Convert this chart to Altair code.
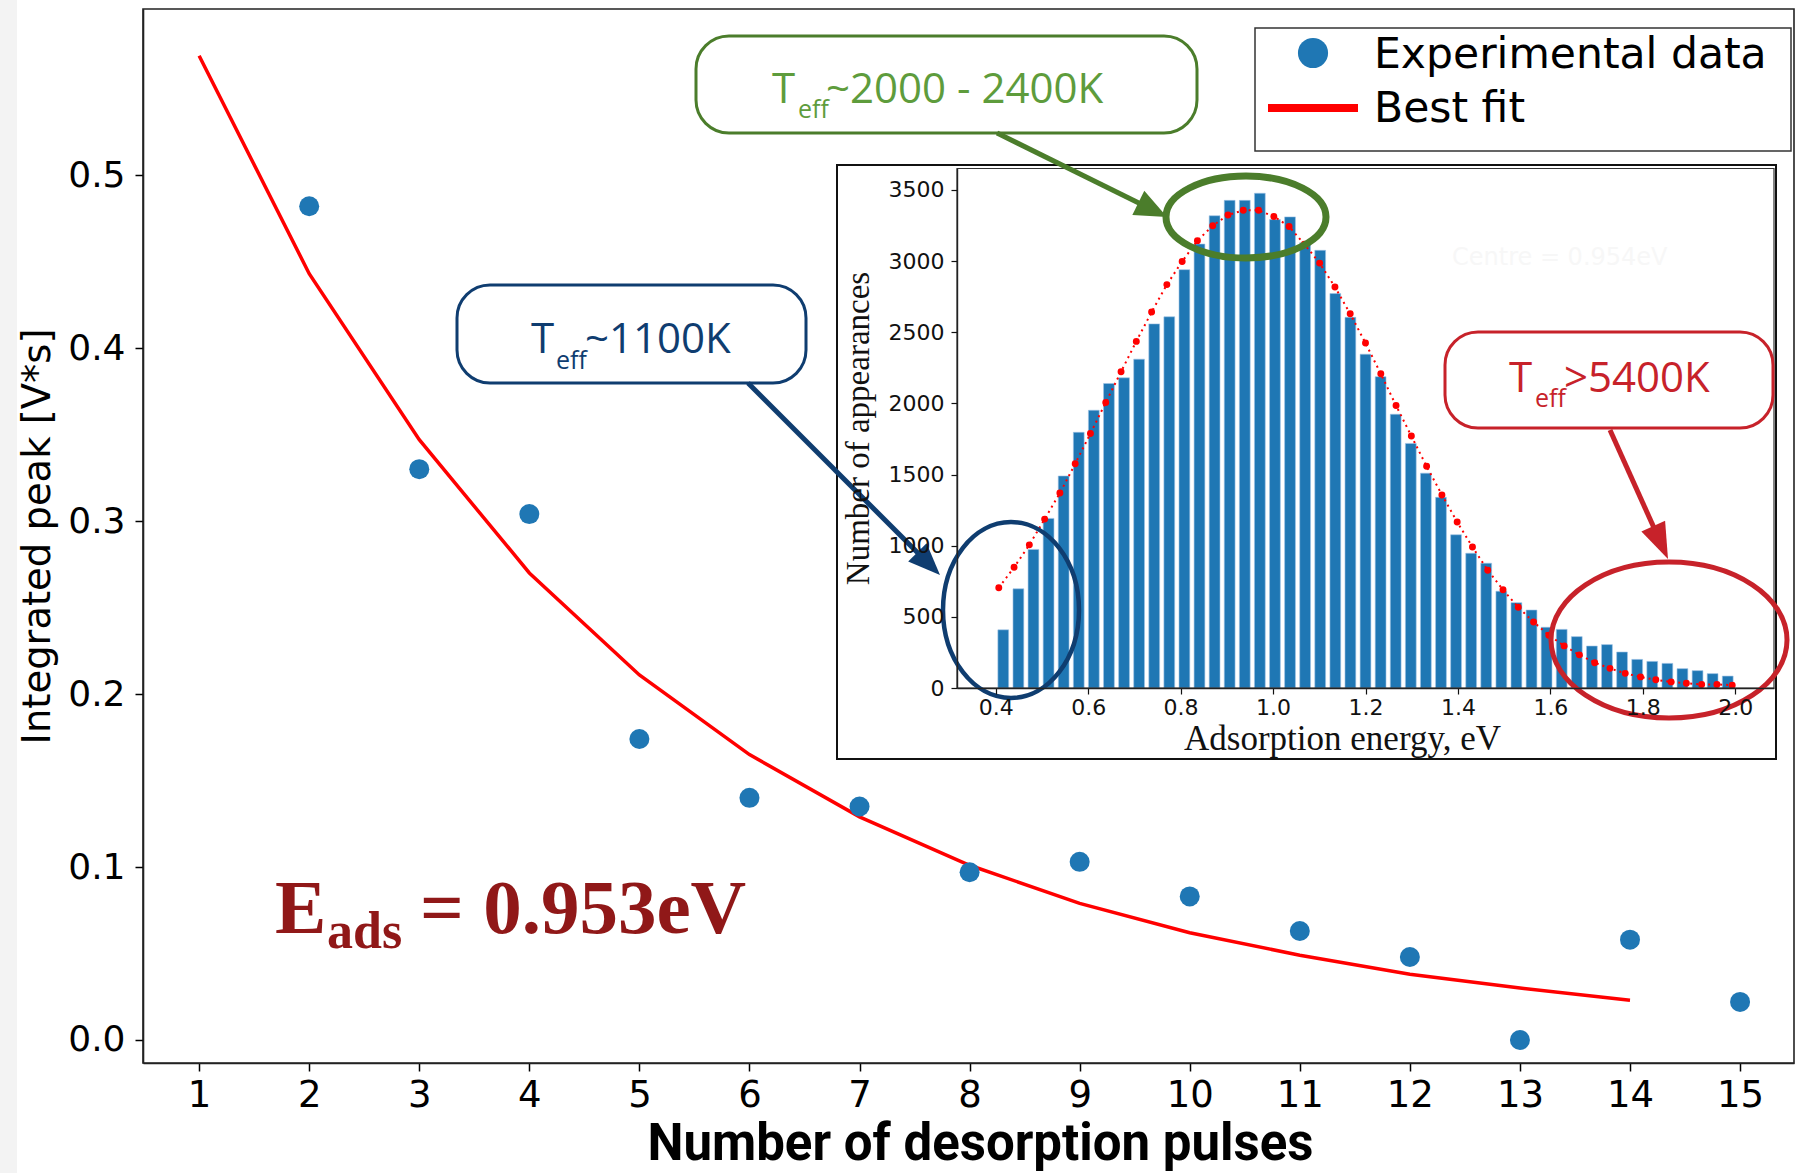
import math
import altair as alt
import pandas as pd

# ---------------- data ----------------
exp_pulses = [2, 3, 4, 5, 6, 7, 8, 9, 10, 11, 12, 13, 14, 15]
exp_peak = [0.482, 0.330, 0.304, 0.174, 0.140, 0.135, 0.097, 0.103,
            0.083, 0.063, 0.048, 0.000, 0.058, 0.022]

fit_pulses = [1, 2, 3, 4, 5, 6, 7, 8, 9, 10, 11, 12, 13, 14]
fit_peak = [0.569, 0.443, 0.347, 0.270, 0.211, 0.165, 0.129, 0.101,
            0.079, 0.062, 0.049, 0.038, 0.030, 0.023]

energy = [0.4163, 0.4490, 0.4816, 0.5143, 0.5469, 0.5796, 0.6122, 0.6449,
          0.6776, 0.7102, 0.7429, 0.7755, 0.8082, 0.8408, 0.8735, 0.9061,
          0.9388, 0.9714, 1.0041, 1.0367, 1.0694, 1.1020, 1.1347, 1.1673,
          1.2000, 1.2327, 1.2653, 1.2980, 1.3306, 1.3633, 1.3959, 1.4286,
          1.4612, 1.4939, 1.5265, 1.5592, 1.5918, 1.6245, 1.6571, 1.6898,
          1.7224, 1.7551, 1.7878, 1.8204, 1.8531, 1.8857, 1.9184, 1.9510,
          1.9837]
counts = [409, 697, 974, 1192, 1490, 1797, 1952, 2140, 2180, 2311, 2559, 2609,
          2940, 3120, 3319, 3427, 3427, 3477, 3292, 3311, 3130, 3076, 2772,
          2605, 2346, 2188, 1924, 1719, 1510, 1340, 1077, 947, 877, 680, 600,
          548, 427, 412, 361, 295, 305, 253, 201, 187, 173, 136, 122, 101, 84]
fit_counts = [705, 848, 1006, 1187, 1370, 1576, 1789, 2007, 2223, 2436, 2642,
              2835, 2998, 3144, 3249, 3324, 3357, 3357, 3314, 3244, 3119, 2986,
              2818, 2630, 2424, 2208, 1985, 1771, 1558, 1357, 1167, 991, 828,
              690, 567, 464, 371, 296, 233, 178, 138, 103, 78, 58, 43, 33, 25,
              25, 20]

main_ticks = [1, 2, 3, 4, 5, 6, 7, 8, 9, 10, 11, 12, 13, 14, 15]
main_yticks = [0.0, 0.1, 0.2, 0.3, 0.4, 0.5]
inset_xticks = [0.4, 0.6, 0.8, 1.0, 1.2, 1.4, 1.6, 1.8, 2.0]
inset_yticks = [0, 500, 1000, 1500, 2000, 2500, 3000, 3500]

legend_labels = ["Experimental data", "Best fit"]

# ---------------- layout ----------------
W, H = 1651, 1054
PAD = {"left": 143, "top": 9, "right": 13, "bottom": 110}

BLUE = "#1f77b4"
GREEN_TXT = "#5e9c3c"
GREEN = "#4b7d2b"
NAVY = "#0f3d70"
RED_ANN = "#c7222a"
DARK_RED = "#901818"

main_df = pd.DataFrame({"pulse": exp_pulses, "peak": exp_peak})
fit_df = pd.DataFrame({"pulse": fit_pulses, "peak": fit_peak})
hist_df = pd.DataFrame({"energy": energy, "count": counts, "fit": fit_counts})
one = pd.DataFrame({"k": [0]})

X_MAIN = alt.Scale(domain=[0.49, 15.49], nice=False, zero=False)
Y_MAIN = alt.Scale(domain=[-0.0133, 0.596], nice=False, zero=False)
X_IN = alt.Scale(domain=[0.327, 2.073], range=[814, 1631], nice=False, zero=False)
Y_IN = alt.Scale(domain=[0, 3651], range=[679, 159.5], nice=False, zero=False)

main_x_axis = alt.Axis(
    orient="bottom", values=main_ticks, format="d", grid=False,
    labelFont="DejaVu Sans", labelFontSize=37, labelColor="black",
    labelPadding=6, labelFlush=False, labelOverlap=False,
    tickSize=8, tickWidth=1.5, tickColor="black",
    domainColor="#222", domainWidth=1.6,
    title="Number of desorption pulses", titleFont="Roboto",
    titleFontWeight="bold", titleFontSize=51, titleColor="black",
    titleX=837, titleY=96, titleBaseline="alphabetic", titleAlign="center")

main_y_axis = alt.Axis(
    orient="left", values=main_yticks, format=".1f", grid=False,
    labelFont="DejaVu Sans", labelFontSize=36, labelColor="black",
    labelPadding=10, labelFlush=False, labelOverlap=False,
    tickSize=8, tickWidth=1.5, tickColor="black",
    domainColor="#222", domainWidth=1.6,
    title="Integrated peak [V*s]", titleFont="DejaVu Sans",
    titleFontWeight="normal", titleFontSize=38.5, titleColor="black",
    titleX=-106, titleY=527, titleAngle=270, titleBaseline="middle",
    titleAlign="center")

inset_x_axis = alt.Axis(
    orient="bottom", offset=-375, zindex=1, values=inset_xticks, format=".1f",
    grid=False, labelFont="DejaVu Sans", labelFontSize=22, labelColor="#111",
    labelPadding=3, labelFlush=False, labelOverlap=False,
    tickSize=6, tickWidth=1.2, tickColor="#111",
    domainColor="#222", domainWidth=1.4,
    title="Adsorption energy, eV", titleFont="Liberation Serif",
    titleFontWeight="normal", titleFontSize=35, titleColor="#111",
    titleX=1199, titleY=61, titleBaseline="alphabetic", titleAlign="center")

inset_y_axis = alt.Axis(
    orient="left", offset=-814, zindex=1, values=inset_yticks, format="d",
    grid=False, labelFont="DejaVu Sans", labelFontSize=22, labelColor="#111",
    labelPadding=7, labelFlush=False, labelOverlap=False,
    tickSize=6, tickWidth=1.2, tickColor="#111",
    domainColor="#222", domainWidth=1.4,
    title="Number of appearances", titleFont="Liberation Serif",
    titleFontWeight="normal", titleFontSize=33, titleColor="#111",
    titleX=-99, titleY=419, titleAngle=270, titleBaseline="middle",
    titleAlign="center")

# ---------------- helpers for annotations ----------------
def rect(x, x2, y, y2, **kw):
    return alt.Chart(one).mark_rect(**kw).encode(
        x=alt.value(x), x2=alt.value(x2), y=alt.value(y), y2=alt.value(y2))


def text(s, x, y, **kw):
    return alt.Chart(one).mark_text(align="left", baseline="alphabetic", **kw).encode(
        x=alt.value(x), y=alt.value(y), text=alt.value(s))


def arrow(x0, y0, x1, y1, color, width, head_len, head_w):
    th = math.atan2(y1 - y0, x1 - x0)
    c, s = math.cos(th), math.sin(th)
    hx, hy = x1 - head_len / 2 * c, y1 - head_len / 2 * s
    lx, ly = x1 - head_len * 0.7 * c, y1 - head_len * 0.7 * s
    w = head_w / head_len
    path = f"M 0 -1 L {w:.3f} 1 L {-w:.3f} 1 Z"
    ang = (math.degrees(th) + 90) % 360
    line = alt.Chart(one).mark_rule(color=color, strokeWidth=width).encode(
        x=alt.value(x0), y=alt.value(y0), x2=alt.value(lx), y2=alt.value(ly))
    head = alt.Chart(one).mark_point(shape=path, size=head_len ** 2, angle=ang,
                                     filled=True, color=color, opacity=1,
                                     strokeWidth=0).encode(
        x=alt.value(hx), y=alt.value(hy))
    return [line, head]


def ellipse(cx, cy, rx, ry, color, sw):
    R = max(rx, ry)
    a, b = rx / R, ry / R
    k = 0.5523
    path = (f"M {-a:.4f} 0 C {-a:.4f} {-b*k:.4f} {-a*k:.4f} {-b:.4f} 0 {-b:.4f} "
            f"C {a*k:.4f} {-b:.4f} {a:.4f} {-b*k:.4f} {a:.4f} 0 "
            f"C {a:.4f} {b*k:.4f} {a*k:.4f} {b:.4f} 0 {b:.4f} "
            f"C {-a*k:.4f} {b:.4f} {-a:.4f} {b*k:.4f} {-a:.4f} 0 Z")
    return alt.Chart(one).mark_point(shape=path, size=(2 * R) ** 2, filled=False,
                                     color=color, strokeWidth=sw, opacity=1).encode(
        x=alt.value(cx), y=alt.value(cy))


# ---------------- main plot ----------------
fit_line = alt.Chart(fit_df).mark_line(color="#ff0000", strokeWidth=3.5).encode(
    x=alt.X("pulse:Q", scale=X_MAIN, axis=None),
    y=alt.Y("peak:Q", scale=Y_MAIN, axis=None))

points = alt.Chart(main_df).mark_circle(size=400, color=BLUE, opacity=1).encode(
    x=alt.X("pulse:Q", scale=X_MAIN, axis=main_x_axis),
    y=alt.Y("peak:Q", scale=Y_MAIN, axis=main_y_axis))

left_strip = rect(-143, -126, -9, 1164, fill="#f3f3f3", strokeWidth=0)

# legend
leg_box = rect(1112, 1648, 19, 142, fill="white", stroke="#333", strokeWidth=1.5)
leg_dot = alt.Chart(one).mark_circle(size=908, color=BLUE, opacity=1).encode(
    x=alt.value(1170), y=alt.value(44))
leg_line = alt.Chart(one).mark_rule(color="#ff0000", strokeWidth=8).encode(
    x=alt.value(1125), x2=alt.value(1215), y=alt.value(99))
leg_t1 = text(legend_labels[0], 1231, 59, font="DejaVu Sans", fontSize=42.5, color="black")
leg_t2 = text(legend_labels[1], 1231, 113, font="DejaVu Sans", fontSize=42.5, color="black")

# ---------------- inset ----------------
inset_box = rect(694, 1633, 156, 750, fill="white", stroke="#111", strokeWidth=2)
inset_frame = rect(814, 1631, 159.5, 679, fill="white", fillOpacity=0,
                   stroke="#333", strokeWidth=1.2)
centre_txt = text("Centre = 0.954eV", 1309, 256, font="DejaVu Sans", fontSize=24,
                  color="#f7f7f7")

bars = alt.Chart(hist_df).mark_bar(size=10.8, color=BLUE, stroke="#9fc3e6",
                                   strokeWidth=0.6).encode(
    x=alt.X("energy:Q", scale=X_IN, axis=inset_x_axis),
    y=alt.Y("count:Q", scale=Y_IN, axis=inset_y_axis))
fit_dotted = alt.Chart(hist_df).mark_line(color="#ff0000", strokeWidth=2,
                                          strokeDash=[2, 4]).encode(
    x=alt.X("energy:Q", scale=X_IN, axis=None),
    y=alt.Y("fit:Q", scale=Y_IN, axis=None))
fit_dots = alt.Chart(hist_df).mark_circle(size=48, color="#ff0000", opacity=1).encode(
    x=alt.X("energy:Q", scale=X_IN, axis=None),
    y=alt.Y("fit:Q", scale=Y_IN, axis=None))

# ---------------- annotations ----------------
SANS = "Open Sans"
green_box = rect(553, 1054, 27, 124, fill="white", stroke=GREEN, strokeWidth=3,
                 cornerRadius=33)
green_T = text("T", 629, 94, font=SANS, fontSize=42, color=GREEN_TXT)
green_s = text("eff", 655, 109, font=SANS, fontSize=25, color=GREEN_TXT)
green_r = text("~2000 - 2400K", 683, 94, font=SANS, fontSize=42, color=GREEN_TXT)

blue_box = rect(314, 663, 276, 374, fill="white", stroke=NAVY, strokeWidth=3,
                cornerRadius=33)
blue_T = text("T", 388, 344, font=SANS, fontSize=42, color=NAVY)
blue_s = text("eff", 413, 360, font=SANS, fontSize=25, color=NAVY)
blue_r = text("~1100K", 442, 344, font=SANS, fontSize=42, color=NAVY)

red_box = rect(1302, 1630, 323, 419, fill="white", stroke=RED_ANN, strokeWidth=3,
               cornerRadius=33)
red_T = text("T", 1366, 383, font=SANS, fontSize=42, color=RED_ANN)
red_s = text("eff", 1392, 398, font=SANS, fontSize=25, color=RED_ANN)
red_r = text(">5400K", 1421, 383, font=SANS, fontSize=42, color=RED_ANN)

arrows = []
arrows += arrow(854, 124, 1024, 208, GREEN, 5, 32, 27)
arrows += arrow(605, 374, 797, 566, NAVY, 5, 32, 26)
arrows += arrow(1467, 421, 1525, 550, RED_ANN, 5, 36, 26)

ell_green = ellipse(1103, 208, 80, 41, GREEN, 7)
ell_blue = ellipse(868, 601, 68, 88, NAVY, 4.5)
ell_red = ellipse(1526, 631, 118, 78, RED_ANN, 5)

e_main = text("E", 132, 924, font="Liberation Serif", fontWeight="bold", fontSize=77,
              color=DARK_RED)
e_sub = text("ads", 184, 939, font="Liberation Serif", fontWeight="bold", fontSize=52,
             color=DARK_RED)
e_rest = text("= 0.953eV", 277, 924, font="Liberation Serif", fontWeight="bold",
              fontSize=77, color=DARK_RED)

layers = [left_strip, fit_line, points, leg_box, leg_dot, leg_line, leg_t1, leg_t2,
          inset_box, centre_txt, bars, fit_dotted, fit_dots, inset_frame,
          green_box, green_T, green_s, green_r,
          blue_box, blue_T, blue_s, blue_r,
          red_box, red_T, red_s, red_r] + arrows + [ell_green, ell_blue, ell_red,
                                                   e_main, e_sub, e_rest]

chart = alt.layer(*layers).resolve_scale(
    x="independent", y="independent"
).properties(
    width=W, height=H,
    autosize=alt.AutoSizeParams(type="none"),
    padding=PAD, background="white"
).configure_view(stroke="#222", strokeWidth=1.6)

chart.save("out.html", embed_options={"renderer": "svg", "actions": False})
